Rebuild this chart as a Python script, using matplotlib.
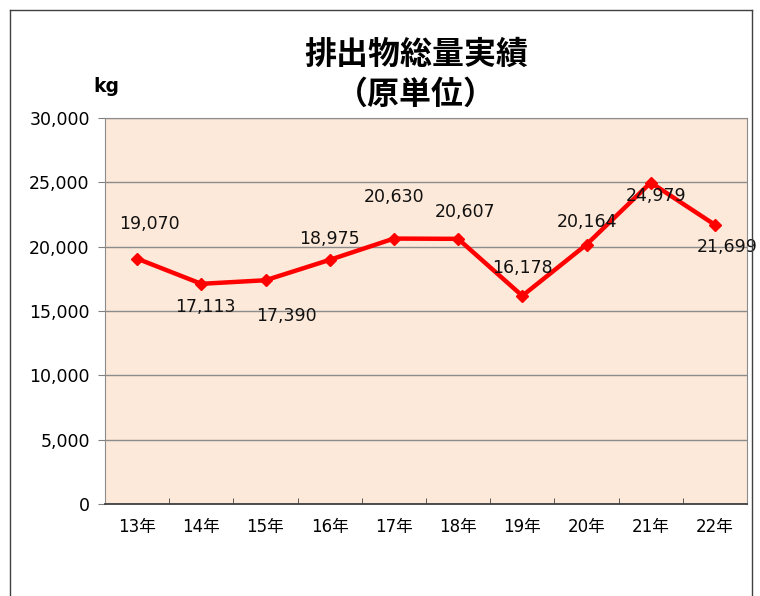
import matplotlib
matplotlib.use("Agg")
import matplotlib.pyplot as plt
from matplotlib.lines import Line2D
from matplotlib.ticker import FuncFormatter

# wide digits from DejaVu, kanji from Noto CJK
plt.rcParams['font.family'] = ['DejaVu Sans', 'Noto Sans CJK JP']

# --- data ---
years = ['13年', '14年', '15年', '16年', '17年', '18年', '19年', '20年', '21年', '22年']
amounts = [19070, 17113, 17390, 18975, 20630, 20607, 16178, 20164, 24979, 21699]
# label offsets (points) relative to each marker
label_dx = [9, 3, 15, 0, 0, 5, 0, 0, 4, 9]
label_dy = [25, -17, -26, 15, 30, 19, 20, 16, -10, -16]

fig = plt.figure(figsize=(7.6, 5.96), dpi=100)
ax = fig.add_axes([105 / 760, 92 / 596, 642 / 760, 386 / 596])
ax.set_facecolor('#FDE9D9')

x = list(range(len(years)))
ax.plot(x, amounts, color='#FF0000', lw=3.2, marker='D', ms=6, zorder=3)

for i, v in enumerate(amounts):
    ax.annotate(f'{v:,}', (i, v), xytext=(label_dx[i], label_dy[i]),
                textcoords='offset points', ha='center', va='center',
                fontsize=12.5, color='#111111', zorder=4)

ax.set_xlim(-0.5, len(years) - 0.5)
ax.set_ylim(0, 30000)
ax.set_yticks(range(0, 30001, 5000))
ax.yaxis.set_major_formatter(FuncFormatter(lambda v, p: f'{int(v):,}'))
ax.grid(axis='y', color='#8C8C8C', lw=1)
ax.set_axisbelow(True)

ax.set_xticks(x)
ax.set_xticklabels(years)
ax.set_xticks([k + 0.5 for k in range(len(years) - 1)], minor=True)
ax.tick_params(axis='x', which='major', length=0, pad=10, labelsize=12)
ax.tick_params(axis='x', which='minor', direction='in', length=4, color='#404040')
ax.tick_params(axis='y', direction='out', length=5, color='#808080', pad=6, labelsize=12.5)

for side in ['left', 'right', 'top']:
    ax.spines[side].set_color('#8C8C8C')
ax.spines['bottom'].set_color('#404040')
ax.spines['bottom'].set_linewidth(1.3)

title_font = ['Noto Sans CJK JP', 'DejaVu Sans']
fig.text(416 / 760, 1 - 55 / 596, '排出物総量実績', ha='center', va='center',
         fontsize=23, fontweight='bold', family=title_font)
fig.text(416 / 760, 1 - 95 / 596, '（原単位）', ha='center', va='center',
         fontsize=23, fontweight='bold', family=title_font)
fig.text(106 / 760, 1 - 87 / 596, 'kg', ha='center', va='center',
         fontsize=13.5, fontweight='bold')

# outer frame
fig.add_artist(Line2D([10 / 760, 752 / 760], [1 - 10 / 596, 1 - 10 / 596],
                      transform=fig.transFigure, color='#404040', lw=1))
fig.add_artist(Line2D([10 / 760, 10 / 760], [0, 1 - 10 / 596],
                      transform=fig.transFigure, color='#404040', lw=1))
fig.add_artist(Line2D([752 / 760, 752 / 760], [0, 1 - 10 / 596],
                      transform=fig.transFigure, color='#404040', lw=1))

fig.savefig('out.png', dpi=100)
